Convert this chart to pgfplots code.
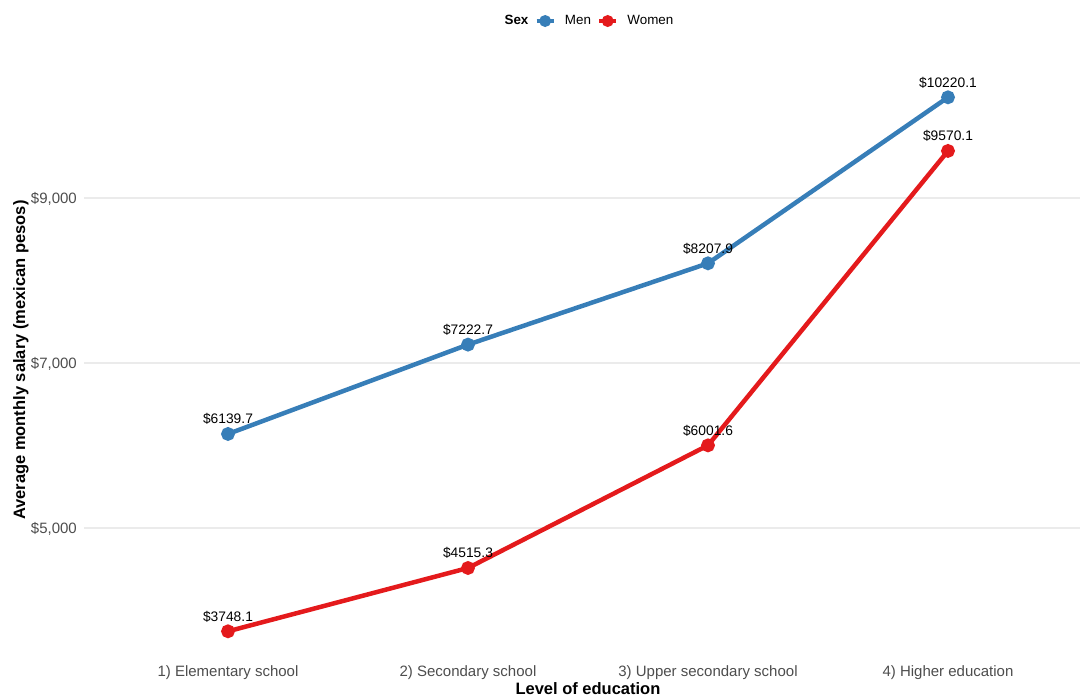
\documentclass[border=0pt]{standalone}
\usepackage{pgfplots}
\pgfplotsset{compat=1.18}
\usepackage{fontspec}
\setmainfont{Liberation Sans}
\definecolor{menblue}{HTML}{377EB8}
\definecolor{womenred}{HTML}{E41A1C}
\definecolor{tickgray}{HTML}{4D4D4D}
\definecolor{gridgray}{HTML}{EBEBEB}
\begin{document}
\begin{tikzpicture}
\begin{axis}[
  at={(0pt,0pt)}, anchor=south west,
  scale only axis, width=996pt, height=587.4pt,
  xmin=0.4, xmax=4.55, ymin=3424.5, ymax=10543.7,
  axis line style={draw=none},
  major tick length=0pt,
  clip=false,
  scaled y ticks=false,
  xtick={1,2,3,4},
  xticklabels={{1) Elementary school},{2) Secondary school},{3) Upper secondary school},{4) Higher education}},
  ytick={5000,7000,9000},
  yticklabels={{\$5,000},{\$7,000},{\$9,000}},
  ymajorgrids,
  grid style={gridgray, line width=1.1pt},
  /pgf/number format/assume math mode=true,
  xticklabel style={font=\fontsize{15}{18}\selectfont, text=tickgray, anchor=base, inner sep=0pt, yshift=-18.5pt},
  yticklabel style={font=\fontsize{15}{18}\selectfont, text=tickgray, anchor=base east, inner sep=0pt, xshift=-7pt, yshift=-5.5pt},
  xlabel={Level of education},
  xlabel style={font=\bfseries\fontsize{16.5}{18}\selectfont, at={(axis description cs:0.506,-0.0615)}, anchor=base, inner sep=0pt},
  ylabel={Average monthly salary (mexican pesos)},
  ylabel style={font=\bfseries\fontsize{16.5}{18}\selectfont, at={(axis description cs:-0.0592,0.507)}, anchor=base, inner sep=0pt, rotate=0},
  legend columns=-1,
  legend style={at={(axis description cs:0.5035,1.0844)}, anchor=center, draw=none, fill=none,
    font=\fontsize{13.4}{15}\selectfont, inner sep=0pt,
    /tikz/every even column/.append style={column sep=4pt},
    /tikz/every odd column/.append style={column sep=7pt}},
  legend image code/.code={\draw[#1, mark repeat=2, mark phase=2, mark size=3.6pt] plot coordinates {(0pt,0pt)(8.5pt,0pt)(17pt,0pt)};},
  every node near coord/.append style={font=\fontsize{13.8}{16}\selectfont, text=black, anchor=base, inner sep=0pt, yshift=10pt},
]
\addlegendimage{empty legend}
\addlegendentry{\textbf{Sex}}
\addplot[menblue, line width=4.5pt, mark=*, mark size=4.6pt, mark options={draw=none, fill=menblue},
  nodes near coords, point meta=explicit symbolic]
  coordinates {(1,6139.7) [\$6139.7] (2,7222.7) [\$7222.7] (3,8207.9) [\$8207.9] (4,10220.1) [\$10220.1]};
\addlegendentry{Men}
\addplot[womenred, line width=4.5pt, mark=*, mark size=4.6pt, mark options={draw=none, fill=womenred},
  nodes near coords, point meta=explicit symbolic]
  coordinates {(1,3748.1) [\$3748.1] (2,4515.3) [\$4515.3] (3,6001.6) [\$6001.6] (4,9570.1) [\$9570.1]};
\addlegendentry{Women}
\end{axis}
\pgfresetboundingbox
\useasboundingbox (-84pt,-38pt) rectangle (996pt,658pt);
\end{tikzpicture}
\end{document}
